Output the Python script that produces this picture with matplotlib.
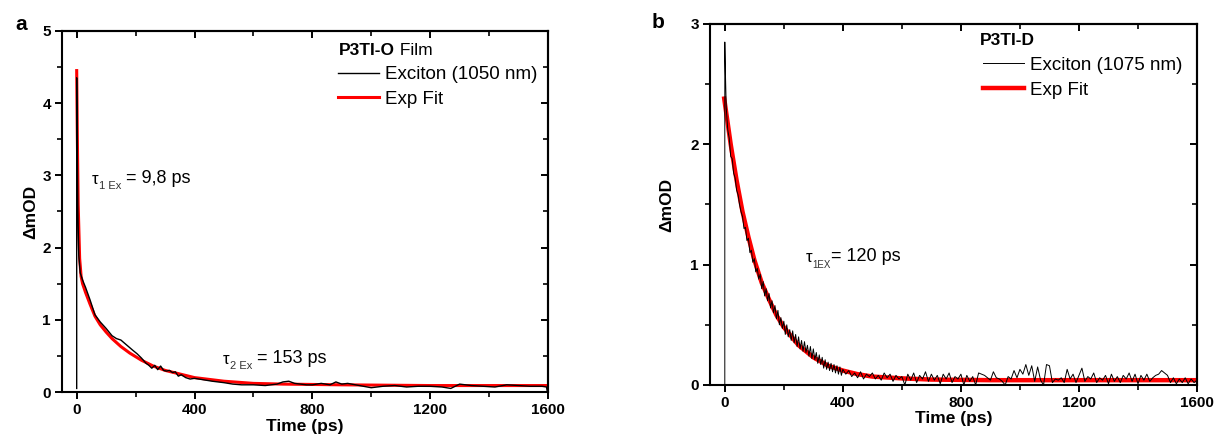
import matplotlib
matplotlib.use("Agg")
import matplotlib.pyplot as plt
from matplotlib.lines import Line2D
from matplotlib.ticker import MultipleLocator

plt.rcParams['font.family'] = ['Liberation Sans', 'DejaVu Sans']

# ---------------- panel a : P3TI-O film, exciton 1050 nm ----------------
t_a = [0, 0, 2, 4, 7, 12, 20, 30, 45, 62, 80, 100, 120, 135, 150, 170, 190,
       205, 220, 235, 245, 255, 265, 275, 285, 295, 305, 315, 325, 335, 345,
       355, 370, 385, 400, 430, 460, 500, 530, 560, 600, 640, 680, 700, 720,
       740, 780, 800, 830, 860, 880, 900, 920, 960, 1000, 1040, 1080, 1120,
       1160, 1200, 1240, 1270, 1300, 1340, 1380, 1420, 1460, 1500, 1540, 1580,
       1595, 1598]
v_a = [0.05, 4.35, 3.3, 2.5, 1.9, 1.65, 1.55, 1.45, 1.28, 1.07, 0.97, 0.88,
       0.78, 0.74, 0.72, 0.65, 0.58, 0.53, 0.47, 0.40, 0.37, 0.33, 0.37, 0.31,
       0.36, 0.30, 0.29, 0.30, 0.27, 0.28, 0.22, 0.24, 0.20, 0.18, 0.19, 0.17,
       0.15, 0.13, 0.11, 0.10, 0.10, 0.09, 0.11, 0.14, 0.15, 0.12, 0.10, 0.10,
       0.12, 0.10, 0.14, 0.11, 0.12, 0.09, 0.06, 0.08, 0.09, 0.07, 0.08, 0.08,
       0.07, 0.05, 0.11, 0.09, 0.08, 0.07, 0.10, 0.09, 0.08, 0.08, 0.07, 0.0]

fit_t_a = [0, 2, 5, 10, 15, 20, 30, 45, 62, 80, 100, 120, 150, 180, 220, 260,
           300, 350, 400, 500, 600, 700, 900, 1200, 1600]
fit_v_a = [4.45, 3.6, 2.6, 1.85, 1.6, 1.5, 1.38, 1.22, 1.05, 0.93, 0.83, 0.74,
           0.63, 0.54, 0.44, 0.36, 0.30, 0.25, 0.20, 0.15, 0.12, 0.11, 0.10,
           0.09, 0.09]

# ---------------- panel b : P3TI-D, exciton 1075 nm ----------------
t_b = [0, 0, 2, 5, 10, 15, 20, 25, 30, 35, 40, 45, 50, 55, 60, 65, 70, 75, 80,
       85, 90, 95, 100, 105, 110, 115, 120, 125, 130, 135, 140, 145, 150, 155,
       160, 165, 170, 175, 180, 185, 190, 195, 200, 205, 210, 215, 220, 225,
       230, 235, 240, 245, 250, 255, 260, 265, 270, 275, 280, 285, 290, 295,
       300, 305, 310, 315, 320, 325, 330, 335, 340, 345, 350, 355, 360, 365,
       370, 375, 380, 385, 390, 395, 400,
       410, 420, 430, 440, 450, 460, 470, 480, 490, 500,
       510, 520, 530, 540, 550, 560, 570, 580, 590, 600,
       610, 620, 630, 640, 650, 660, 670, 680, 690, 700,
       710, 720, 730, 740, 750, 760, 770, 780, 790, 800,
       810, 820, 830, 840, 850, 860, 870, 880, 890, 900,
       910, 920, 930, 940, 950, 960, 970, 980, 990, 1000,
       1010, 1020, 1030, 1040, 1050, 1060, 1070, 1080, 1090, 1100,
       1110, 1120, 1130, 1140, 1150, 1160, 1170, 1180, 1190, 1200,
       1210, 1220, 1230, 1240, 1250, 1260, 1270, 1280, 1290, 1300,
       1310, 1320, 1330, 1340, 1350, 1360, 1370, 1380, 1390, 1400,
       1410, 1420, 1430, 1440, 1450, 1460, 1470, 1480, 1490, 1500,
       1510, 1520, 1530, 1540, 1550, 1560, 1570, 1580, 1590, 1600]
v_b = [0.0, 2.85, 2.6, 2.30, 2.12, 2.05, 1.90, 1.88, 1.76, 1.72, 1.62, 1.58,
       1.50, 1.44, 1.40, 1.30, 1.31, 1.20, 1.22, 1.10, 1.12, 1.02, 1.05, 0.94,
       0.97, 0.88, 0.92, 0.80, 0.86, 0.74, 0.80, 0.70, 0.76, 0.64, 0.70, 0.60,
       0.66, 0.55, 0.62, 0.50, 0.56, 0.47, 0.53, 0.42, 0.50, 0.40, 0.46, 0.37,
       0.45, 0.35, 0.42, 0.32, 0.40, 0.30, 0.37, 0.28, 0.36, 0.27, 0.33, 0.24,
       0.32, 0.22, 0.30, 0.21, 0.27, 0.18, 0.25, 0.17, 0.23, 0.14, 0.21, 0.13,
       0.19, 0.12, 0.18, 0.11, 0.17, 0.10, 0.16, 0.09, 0.15, 0.08, 0.13,
       0.09, 0.12, 0.07, 0.10, 0.06, 0.11, 0.05, 0.09, 0.07, 0.10,
       0.05, 0.08, 0.04, 0.10, 0.06, 0.09, 0.03, 0.08, 0.05, 0.07,
       0.00, 0.09, 0.04, 0.10, 0.02, 0.08, 0.05, 0.11, 0.03, 0.09,
       0.04, 0.08, 0.01, 0.09, 0.05, 0.10, 0.02, 0.07, 0.05, 0.09,
       0.00, 0.08, 0.03, 0.07, 0.00, 0.10, 0.09, 0.08, 0.06, 0.04,
       0.11, 0.06, 0.05, 0.03, 0.00, 0.07, 0.05, 0.12, 0.06, 0.13,
       0.09, 0.17, 0.08, 0.16, 0.03, 0.15, 0.04, 0.00, 0.17, 0.16,
       0.02, 0.05, 0.04, 0.06, 0.02, 0.13, 0.05, 0.09, 0.02, 0.08,
       0.14, 0.03, 0.07, 0.05, 0.10, 0.02, 0.06, 0.04, 0.08, 0.01,
       0.09, 0.03, 0.07, 0.02, 0.08, 0.05, 0.10, 0.03, 0.09, 0.01,
       0.08, 0.04, 0.09, 0.03, 0.06, 0.08, 0.09, 0.12, 0.10, 0.08,
       0.02, 0.06, 0.01, 0.05, 0.02, 0.06, 0.01, 0.05, 0.02, 0.04]

fit_t_b = [-2, 20, 40, 60, 80, 100, 125, 150, 175, 200, 250, 300, 350, 400,
           450, 500, 600, 700, 900, 1600]
fit_v_b = [2.38, 2.0, 1.7, 1.44, 1.23, 1.04, 0.85, 0.71, 0.58, 0.48, 0.33,
           0.23, 0.16, 0.12, 0.09, 0.07, 0.055, 0.045, 0.04, 0.04]

x_ticks = [0, 400, 800, 1200, 1600]


def style_axes(ax, ymax, ylabelpad):
    ax.set_xlim(-50, 1600)
    ax.set_ylim(0, ymax)
    ax.set_xticks(x_ticks)
    ax.set_yticks(range(0, ymax + 1))
    ax.xaxis.set_minor_locator(MultipleLocator(200))
    ax.yaxis.set_minor_locator(MultipleLocator(0.5))
    for s in ax.spines.values():
        s.set_linewidth(1.5)
    ax.tick_params(which='major', direction='out', length=5, width=1.4,
                   labelsize=11, pad=3)
    ax.tick_params(which='minor', direction='out', length=3.5, width=1.2)
    for lab in ax.get_xticklabels() + ax.get_yticklabels():
        lab.set_fontweight('bold')
    # mirrored ticks on top/right pointing inwards
    top = ax.secondary_xaxis('top')
    top.set_xticks(x_ticks)
    top.xaxis.set_minor_locator(MultipleLocator(200))
    top.tick_params(which='major', direction='in', length=5, width=1.4,
                    labeltop=False)
    top.tick_params(which='minor', direction='in', length=3.5, width=1.2)
    top.spines['top'].set_linewidth(1.5)
    right = ax.secondary_yaxis('right')
    right.set_yticks(range(0, ymax + 1))
    right.yaxis.set_minor_locator(MultipleLocator(0.5))
    right.tick_params(which='major', direction='in', length=5, width=1.4,
                      labelright=False)
    right.tick_params(which='minor', direction='in', length=3.5, width=1.2)
    right.spines['right'].set_linewidth(1.5)
    ax.set_xlabel('Time (ps)', fontsize=12.5, fontweight='bold', labelpad=1)
    ax.set_ylabel('\u0394mOD', fontsize=12.5, fontweight='bold',
                  labelpad=ylabelpad)


def tau_label(ax, x, y, sub, rest, subsize=8):
    t1 = ax.text(x, y, '\u03c4', fontsize=12, va='baseline', ha='left')
    t2 = ax.annotate(sub, xy=(1, 0.05), xycoords=t1, fontsize=subsize,
                     va='center', ha='left', color='#333333')
    ax.annotate(rest, xy=(1, 0), xycoords=(t2, t1), fontsize=13,
                va='bottom', ha='left')


def legend_block(ax, x, y, bold, normal, label, lw_data, lw_fit, dx, dy):
    t = ax.text(x, y, bold, transform=ax.transAxes, fontsize=12.5,
                fontweight='bold', va='center', ha='left')
    if normal:
        ax.annotate(normal, xy=(1, 0.5), xycoords=t, fontsize=12.5,
                    va='center', ha='left')
    handles = [Line2D([], [], color='black', lw=lw_data),
               Line2D([], [], color='red', lw=lw_fit)]
    ax.legend(handles, [label, 'Exp Fit'], loc='upper left',
              bbox_to_anchor=(x + dx, y + dy), frameon=False,
              fontsize=13.5, handlelength=2.2, handletextpad=0.3,
              labelspacing=0.4, borderaxespad=0, borderpad=0)


fig = plt.figure(figsize=(12.15, 4.41), dpi=100)
ax_a = fig.add_axes([0.051, 0.111, 0.400, 0.819])
ax_b = fig.add_axes([0.5844, 0.127, 0.4008, 0.8186])

# panel a
ax_a.plot(t_a, v_a, color='black', lw=1.0, zorder=3)
ax_a.plot(fit_t_a, fit_v_a, color='red', lw=2.2, zorder=2)
style_axes(ax_a, 5, 3)
tau_label(ax_a, 52, 2.88, '1 Ex', ' = 9,8 ps')
tau_label(ax_a, 497, 0.39, '2 Ex', ' = 153 ps')
legend_block(ax_a, 0.57, 0.945, 'P3TI-O', ' Film', 'Exciton (1050 nm)',
             1.0, 2.2, -0.002, -0.043)

# panel b
ax_b.plot(t_b, v_b, color='black', lw=0.7, zorder=3)
ax_b.plot(fit_t_b, fit_v_b, color='red', lw=3.2, zorder=2)
style_axes(ax_b, 3, 12)
tau_label(ax_b, 274, 1.02, '1EX', '= 120 ps', subsize=7)
legend_block(ax_b, 0.555, 0.955, 'P3TI-D', None, 'Exciton (1075 nm)',
             0.7, 3.2, 0.006, -0.046)

fig.text(15 / 1215, 1 - 25 / 441, 'a', fontsize=15, fontweight='bold',
         va='center', ha='left')
fig.text(652 / 1215, 1 - 22 / 441, 'b', fontsize=15, fontweight='bold',
         va='center', ha='left')

fig.savefig('out.png', dpi=100)
